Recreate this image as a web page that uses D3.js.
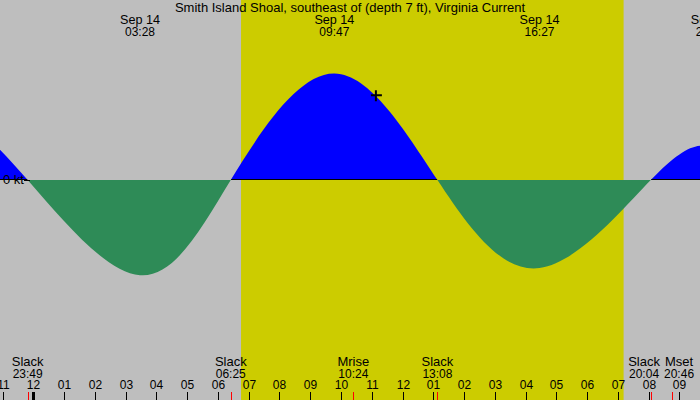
<!DOCTYPE html>
<html>
<head>
<meta charset="utf-8">
<script src="https://cdn.jsdelivr.net/npm/d3@7"></script>
<style>
  body { margin: 0; background: #fff; }
  svg text { font-family: "Liberation Sans", Arial, sans-serif; font-size: 12px; fill: #000; }
  svg text.word { font-size: 13px; }
  svg text.date { font-size: 12.6px; }
</style>
</head>
<body>
<svg id="chart"></svg>
<script>
// tide current graph, one day window
var width = 700
var height = 400

var title = 'Smith Island Shoal, southeast of (depth 7 ft), Virginia Current'

// window shown
var windowTimes = ['2023-09-13 22:55', '2023-09-14 21:40']

// slacks and max currents (knots, flood +, ebb -)
var curveTimes = ['2023-09-13 17:25', '2023-09-13 20:40', '2023-09-13 23:49', '2023-09-14 03:28',
                  '2023-09-14 06:25', '2023-09-14 09:47', '2023-09-14 13:08', '2023-09-14 16:27',
                  '2023-09-14 20:04', '2023-09-14 22:01', '2023-09-14 23:45']
var curveKnots = [0, 0.87, 0, -1.19, 0, 1.33, 0, -1.10, 0, 0.42, 0]

// max current labels on top
var maxTimes = ['2023-09-14 03:28', '2023-09-14 09:47', '2023-09-14 16:27', '2023-09-14 22:01']

// events on the bottom
var eventTimes = ['2023-09-13 23:49', '2023-09-14 06:25', '2023-09-14 10:24',
                  '2023-09-14 13:08', '2023-09-14 20:04', '2023-09-14 20:46']
var eventNames = ['Slack', 'Slack', 'Mrise', 'Slack', 'Slack', 'Mset']

var sunrise = '2023-09-14 06:45'
var sunset = '2023-09-14 19:11'

var nowTime = '2023-09-14 11:08'
var nowKnots = 1.06

var parse = d3.timeParse('%Y-%m-%d %H:%M')

var xScale = d3.scaleTime()
               .domain(windowTimes.map(parse))
               .range([0, width])

var yScale = d3.scaleLinear()
               .domain([-2.25, 2.25])
               .range([360, 0])

var zeroY = yScale(0)

var svg = d3.select('#chart')
            .attr('width', width)
            .attr('height', height)

// night / day
svg.append('rect')
   .attr('width', width)
   .attr('height', height)
   .attr('fill', '#bebebe')

svg.append('rect')
   .attr('x', xScale(parse(sunrise)))
   .attr('y', 0)
   .attr('width', xScale(parse(sunset)) - xScale(parse(sunrise)))
   .attr('height', height)
   .attr('fill', '#cccc00')

var points = curveTimes.map((t, i) => ({ t: parse(t), v: curveKnots[i] }))

var area = d3.area()
             .x(d => xScale(d.t))
             .y0(zeroY)
             .y1(d => yScale(d.v))
             .curve(d3.curveNatural)

var defs = svg.append('defs')
defs.append('clipPath').attr('id', 'above')
    .append('rect').attr('x', 0).attr('y', 0).attr('width', width).attr('height', zeroY)
defs.append('clipPath').attr('id', 'below')
    .append('rect').attr('x', 0).attr('y', zeroY).attr('width', width).attr('height', height - zeroY)
defs.append('clipPath').attr('id', 'wave')
    .append('path').attr('d', area(points))

var flood = svg.append('g').attr('clip-path', 'url(#above)')
flood.append('path')
     .attr('d', area(points))
     .attr('fill', '#0000ff')
flood.append('line')
     .attr('clip-path', 'url(#wave)')
     .attr('x1', 0).attr('x2', width)
     .attr('y1', zeroY - 0.5).attr('y2', zeroY - 0.5)
     .attr('stroke', '#000')

svg.append('g').attr('clip-path', 'url(#below)')
   .append('path')
     .attr('d', area(points))
     .attr('fill', '#2e8b57')

// zero label
svg.append('text')
   .attr('class', 'word')
   .attr('x', 24)
   .attr('y', zeroY + 4)
   .style('text-anchor', 'end')
   .text('0 kt')
svg.append('line')
   .attr('x1', 24).attr('x2', 30)
   .attr('y1', zeroY + 0.5).attr('y2', zeroY + 0.5)
   .attr('stroke', '#000')

// now marker
var nx = xScale(parse(nowTime))
var ny = yScale(nowKnots)
svg.append('path')
   .attr('d', `M${nx - 5},${ny}H${nx + 6}M${nx},${ny - 5}V${ny + 6}`)
   .attr('stroke', '#000')
   .attr('stroke-width', 2)

// title and max labels
svg.append('text')
   .attr('class', 'word')
   .attr('x', width / 2)
   .attr('y', 12)
   .style('text-anchor', 'middle')
   .text(title)

var fmtDate = d3.timeFormat('%b %d')
var fmtTime = d3.timeFormat('%H:%M')

var maxLabels = svg.selectAll('.maxlabel')
                   .data(maxTimes.map(parse))
                   .enter()
                   .append('g')
                     .classed('maxlabel', true)
                     .attr('transform', d => `translate(${xScale(d)},0)`)
maxLabels.append('text')
         .attr('class', 'date')
         .attr('y', 24)
         .style('text-anchor', 'middle')
         .text(d => fmtDate(d))
maxLabels.append('text')
         .attr('y', 36)
         .style('text-anchor', 'middle')
         .text(d => fmtTime(d))

// hour ticks
var hours = xScale.ticks(d3.timeHour.every(1))
var ticks = svg.selectAll('.hour')
               .data(hours)
               .enter()
               .append('g')
                 .classed('hour', true)
                 .attr('transform', d => `translate(${Math.round(xScale(d)) + 0.5},0)`)
ticks.append('line')
     .attr('y1', 392).attr('y2', height)
     .attr('stroke', '#000')
     .attr('stroke-width', d => d.getHours() === 0 ? 3 : 1)
ticks.append('text')
     .attr('y', 389)
     .style('text-anchor', 'middle')
     .text(d3.timeFormat('%I'))

// events, pushed apart when they crowd
var events = eventTimes.map((t, i) => ({ t: parse(t), name: eventNames[i] }))
events.forEach(d => { d.lx = xScale(d.t) })
var minGap = 35
for (var i = 1; i < events.length; i++) {
  var gap = events[i].lx - events[i - 1].lx
  if (gap < minGap) {
    events[i - 1].lx -= (minGap - gap) / 2
    events[i].lx += (minGap - gap) / 2
  }
}

svg.selectAll('.evtick')
   .data(events)
   .enter()
   .append('line')
     .classed('evtick', true)
     .attr('x1', d => Math.round(xScale(d.t)) + 0.5)
     .attr('x2', d => Math.round(xScale(d.t)) + 0.5)
     .attr('y1', 392).attr('y2', height)
     .attr('stroke', '#ff0000')

var evLabels = svg.selectAll('.evlabel')
                  .data(events)
                  .enter()
                  .append('g')
                    .classed('evlabel', true)
                    .attr('transform', d => `translate(${d.lx},0)`)
evLabels.append('text')
        .attr('class', 'word')
        .attr('y', 366)
        .style('text-anchor', 'middle')
        .text(d => d.name)
evLabels.append('text')
        .attr('y', 378)
        .style('text-anchor', 'middle')
        .text(d => fmtTime(d.t))
</script>
</body>
</html>
